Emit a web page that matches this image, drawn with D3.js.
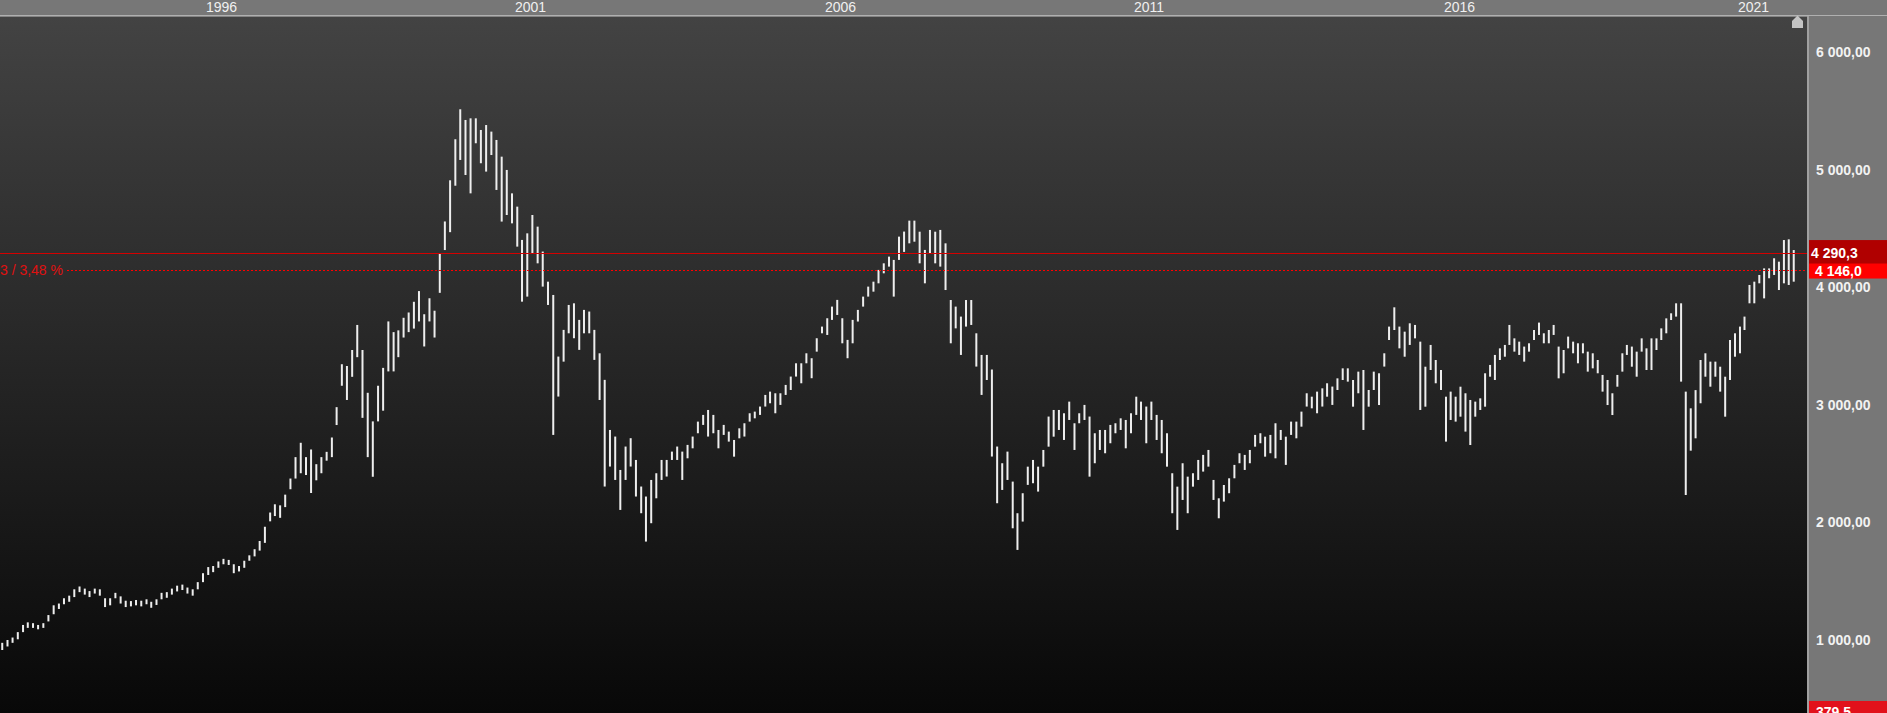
<!DOCTYPE html>
<html><head><meta charset="utf-8">
<script src="https://cdn.jsdelivr.net/npm/d3@7"></script>
<style>html,body{margin:0;padding:0;background:#000;overflow:hidden}svg{display:block}</style>
</head><body>
<svg id="c" width="1887" height="713"></svg>
<script>
// ---- data (monthly high / low) ----
const startMonth = "1992-09";
const highs = [961,976,1000,1021,1067,1128,1150,1143,1128,1143,1212,1295,1310,1355,1377,1431,1455,1437,1416,1437,
1431,1355,1355,1401,1371,1334,1331,1340,1334,1346,1325,1346,1401,1407,1437,1462,1471,1446,1431,1492,
1568,1620,1629,1668,1690,1681,1644,1629,1674,1720,1772,1842,1963,2084,2154,2145,2236,2373,2555,2677,
2555,2620,2495,2555,2600,2722,2980,3345,3330,3466,3679,3466,3102,2859,3162,3314,3709,3618,3633,3740,
3785,3876,3967,3770,3906,3800,4286,4559,4909,5258,5513,5422,5436,5436,5337,5379,5323,5252,5110,4997,
4798,4685,4402,4458,4614,4515,4303,4047,3934,3410,3637,3849,3863,3722,3807,3793,3637,3438,3212,2786,
2730,2446,2645,2716,2531,2305,2220,2361,2418,2531,2531,2602,2645,2602,2659,2730,2857,2914,2956,2914,
2786,2829,2772,2701,2800,2843,2928,2942,2985,3084,3112,3098,3098,3169,3240,3353,3353,3438,3396,3566,
3665,3736,3835,3892,3736,3552,3722,3807,3920,4005,4047,4147,4203,4260,4232,4430,4473,4566,4566,4472,
4317,4487,4472,4487,4373,3891,3835,3750,3891,3891,3608,3424,3424,3300,2645,2503,2602,2347,2078,2248,
2474,2531,2474,2616,2900,2956,2956,2928,3027,2843,2928,2999,2900,2758,2786,2786,2829,2843,2885,2871,
2928,3069,3027,2985,3027,2914,2871,2758,2418,2304,2503,2389,2418,2531,2574,2616,2361,2205,2318,2375,
2489,2588,2574,2616,2744,2758,2729,2744,2843,2786,2729,2857,2857,2942,3098,3069,3112,3140,3183,3155,
3225,3310,3310,3211,3282,3296,3126,3282,3268,3438,3665,3829,3665,3622,3693,3679,3537,3324,3509,3381,
3296,3069,3112,3069,3154,3098,3041,3027,3055,3268,3339,3424,3480,3509,3679,3565,3537,3495,3523,3636,
3699,3608,3636,3679,3495,3466,3580,3537,3523,3523,3452,3438,3381,3254,3211,3098,3254,3438,3509,3495,
3452,3565,3480,3565,3565,3650,3735,3778,3863,3863,3112,2970,3125,3381,3438,3367,3367,3324,3239,3551,
3608,3665,3750,4019,4047,4104,4160,4160,4246,4217,4401,4407,4316];
const lows = [900,915,945,976,1006,1067,1103,1103,1091,1103,1158,1219,1264,1304,1325,1365,1407,1386,1365,1395,
1377,1280,1295,1355,1310,1280,1286,1295,1286,1304,1274,1298,1346,1359,1386,1413,1425,1395,1377,1431,
1492,1553,1577,1614,1644,1638,1568,1583,1614,1674,1711,1760,1826,2009,2054,2039,2130,2282,2373,2418,
2403,2250,2358,2418,2525,2555,2828,3162,3041,3238,3405,2889,2555,2388,2859,2950,3284,3284,3405,3572,
3618,3648,3709,3496,3709,3572,3952,4316,4468,4863,5082,4954,4798,5224,5054,4983,5124,4827,4558,4614,
4543,4345,3877,3920,4288,4203,4005,3849,2744,3070,3367,3608,3566,3467,3608,3608,3382,3041,2305,2475,
2361,2106,2361,2475,2220,2078,1837,1993,2205,2361,2390,2531,2531,2361,2545,2630,2758,2829,2730,2758,
2630,2744,2687,2559,2715,2730,2857,2885,2914,2985,3013,2928,2999,3084,3126,3240,3183,3353,3226,3452,
3608,3594,3722,3764,3523,3396,3523,3708,3835,3920,3962,4033,4118,4175,3920,4232,4300,4373,4387,4203,
4033,4288,4203,4175,3976,3523,3650,3424,3665,3679,3325,3084,3211,2560,2163,2276,2361,1950,1766,2007,
2319,2333,2262,2474,2644,2729,2786,2701,2871,2616,2843,2871,2389,2503,2616,2588,2673,2758,2786,2630,
2758,2914,2871,2673,2871,2701,2588,2474,2078,1936,2191,2078,2304,2361,2432,2474,2191,2035,2177,2248,
2375,2503,2446,2503,2644,2673,2559,2588,2545,2701,2489,2744,2715,2814,2985,2970,2928,2985,3069,2999,
3126,3211,3197,2984,3098,2786,2984,3126,2998,3325,3551,3636,3480,3409,3509,3565,2956,2984,3296,3183,
3126,2687,2871,2857,2899,2772,2658,2899,2956,2984,3239,3211,3381,3409,3509,3452,3424,3367,3452,3551,
3594,3523,3523,3594,3225,3268,3480,3438,3353,3438,3282,3310,3268,3112,2998,2913,3154,3282,3424,3324,
3239,3452,3296,3296,3466,3551,3608,3721,3750,3197,2233,2610,2715,3013,3239,3154,3239,3112,2899,3211,
3409,3438,3636,3863,3863,4033,3905,4076,4104,3976,4033,4019,4047];
const yearTicks = [1996, 2001, 2006, 2011, 2016, 2021];
const valueTicks = [1000, 2000, 3000, 4000, 5000, 6000];
const lastValue = 4290.3;
const refValue = 4146.0;
const bottomValue = 379.5;
const changeLabel = "3 / 3,48 %";

// ---- layout ----
const W = 1887, H = 713, plotR = 1807, plotTop = 16;
const svg = d3.select("#c");
const font = "'Liberation Sans', Arial, sans-serif";
const loc = d3.formatLocale({decimal: ",", thousands: " ", grouping: [3], currency: ["", ""]});
const f2 = loc.format(",.2f"), f1 = loc.format(",.1f");

const x = d3.scaleTime()
  .domain(yearTicks.map(v => new Date(v, 0, 1)))
  .range([203, 512, 822, 1131, 1441, 1735]);
const y = d3.scaleLinear().domain([1000, 6000]).range([640, 52]);

const start = d3.timeParse("%Y-%m")(startMonth);
const data = highs.map((h, i) => ({date: d3.timeMonth.offset(start, i), high: h, low: lows[i]}));

const defs = svg.append("defs");
const g = defs.append("linearGradient").attr("id", "bg").attr("x1", 0).attr("y1", 0).attr("x2", 0).attr("y2", 1);
g.append("stop").attr("offset", "0%").attr("stop-color", "#434343");
g.append("stop").attr("offset", "100%").attr("stop-color", "#080808");
defs.append("clipPath").attr("id", "clip").append("rect")
  .attr("x", 0).attr("y", plotTop).attr("width", plotR).attr("height", H - plotTop);

// background
svg.append("rect").attr("x", 0).attr("y", plotTop).attr("width", plotR).attr("height", H - plotTop).attr("fill", "url(#bg)");
svg.append("rect").attr("x", 0).attr("y", 0).attr("width", W).attr("height", 15).attr("fill", "#777");
svg.append("rect").attr("x", 0).attr("y", 15).attr("width", W).attr("height", 1.6).attr("fill", "#b0b0b0");
svg.append("rect").attr("x", plotR + 2).attr("y", plotTop).attr("width", W - plotR - 2).attr("height", H - plotTop).attr("fill", "#777");
svg.append("rect").attr("x", plotR).attr("y", plotTop).attr("width", 2).attr("height", H - plotTop).attr("fill", "#a0a0a0");

// year labels
svg.append("g").selectAll("text").data(yearTicks).join("text")
  .attr("x", d => x(new Date(d, 0, 1)) + 3).attr("y", 12)
  .attr("font-family", font).attr("font-size", 14).attr("fill", "#f0f0f0")
  .text(d => d);

// bars
const plot = svg.append("g").attr("clip-path", "url(#clip)");
plot.append("g").selectAll("rect").data(data).join("rect")
  .attr("x", d => x(d.date) - 1).attr("width", 2)
  .attr("y", d => y(d.high)).attr("height", d => Math.max(1, y(d.low) - y(d.high)))
  .attr("fill", "#eeeeee");

// reference lines
plot.append("line").attr("x1", 0).attr("x2", plotR)
  .attr("y1", Math.round(y(lastValue)) + 0.5).attr("y2", Math.round(y(lastValue)) + 0.5)
  .attr("stroke", "#d40000").attr("stroke-width", 1);
plot.append("line").attr("x1", 67).attr("x2", plotR)
  .attr("y1", Math.round(y(refValue)) + 0.5).attr("y2", Math.round(y(refValue)) + 0.5)
  .attr("stroke", "#ff0000").attr("stroke-width", 1).attr("stroke-dasharray", "2,2");
plot.append("text").attr("x", 63).attr("y", y(refValue)).attr("dy", "0.36em")
  .attr("text-anchor", "end").attr("font-family", font).attr("font-size", 14).attr("fill", "#e01010")
  .text(changeLabel);

// marker icon
svg.append("polygon")
  .attr("points", [[plotR - 15, 21], [plotR - 9.5, 15.5], [plotR - 4, 21], [plotR - 4, 28], [plotR - 15, 28]].map(p => p.join(",")).join(" "))
  .attr("fill", "#c4c4c4");

// value axis labels
svg.append("g").selectAll("text").data(valueTicks).join("text")
  .attr("x", 1816).attr("y", d => y(d)).attr("dy", "0.36em")
  .attr("font-family", font).attr("font-size", 14).attr("font-weight", "bold").attr("fill", "#f2f2f2")
  .text(d => f2(d));

// price tags
const yl = y(lastValue), yr = y(refValue), yb = y(bottomValue);
svg.append("rect").attr("x", plotR + 2).attr("y", yl - 13).attr("width", W - plotR - 2).attr("height", 26).attr("fill", "#b00000");
svg.append("text").attr("x", 1811).attr("y", yl).attr("dy", "0.36em")
  .attr("font-family", font).attr("font-size", 14).attr("font-weight", "bold").attr("fill", "#fff").text(f1(lastValue));
svg.append("rect").attr("x", plotR + 2).attr("y", yr - 6.5).attr("width", W - plotR - 2).attr("height", 15).attr("fill", "#ff0000");
svg.append("text").attr("x", 1815).attr("y", yr + 1).attr("dy", "0.36em")
  .attr("font-family", font).attr("font-size", 14).attr("font-weight", "bold").attr("fill", "#fff").text(f1(refValue));
svg.append("rect").attr("x", plotR + 2).attr("y", yb - 12).attr("width", W - plotR - 2).attr("height", 24).attr("fill", "#e2111b");
svg.append("text").attr("x", 1816).attr("y", yb - 1).attr("dy", "0.36em")
  .attr("font-family", font).attr("font-size", 14).attr("font-weight", "bold").attr("fill", "#fff").text(f1(bottomValue));
</script>
</body></html>
